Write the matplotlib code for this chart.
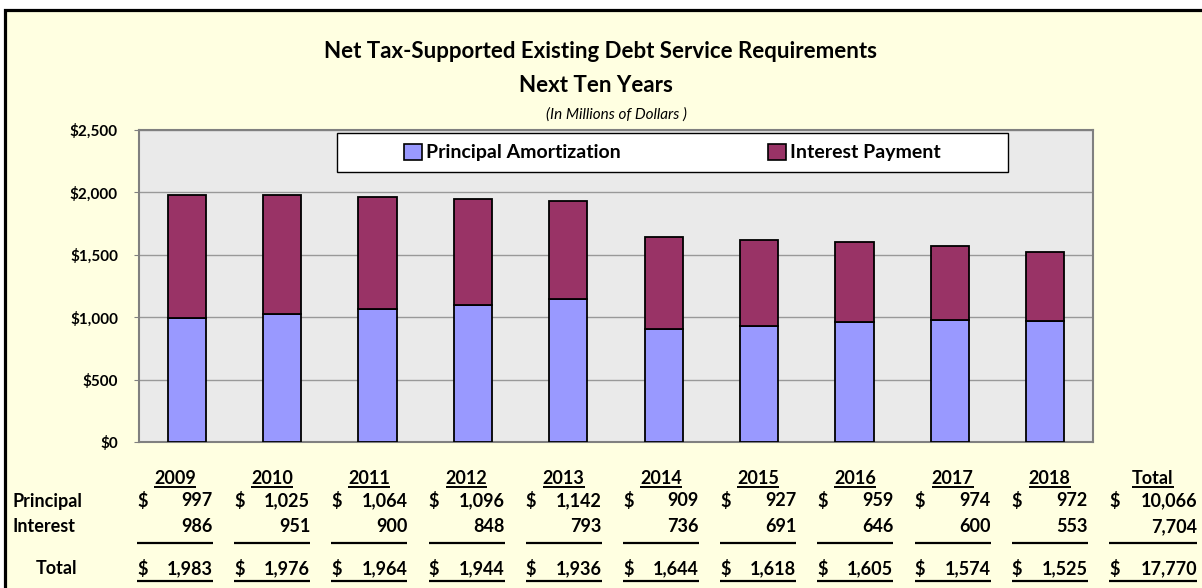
import matplotlib.pyplot as plt
from matplotlib.patches import Rectangle, Patch

plt.rcParams['font.family'] = ['Lato', 'DejaVu Sans']

years = ['2009', '2010', '2011', '2012', '2013', '2014', '2015', '2016', '2017', '2018']
principal = [997, 1025, 1064, 1096, 1142, 909, 927, 959, 974, 972]
interest = [986, 951, 900, 848, 793, 736, 691, 646, 600, 553]
totals = [1983, 1976, 1964, 1944, 1936, 1644, 1618, 1605, 1574, 1525]
sum_principal = 10066
sum_interest = 7704
sum_total = 17770
y_ticks = [0, 500, 1000, 1500, 2000, 2500]

W, H = 1202, 588
bg = '#FFFFE1'
fig = plt.figure(figsize=(W / 100, H / 100), dpi=100)
fig.patch.set_facecolor('white')

# yellow panel with heavy black border (only top/left edges fall inside the image)
fig.patches.append(Rectangle((5 / W, -0.2), 1.2, 1.2 - 10 / H, transform=fig.transFigure,
                             facecolor=bg, edgecolor='black', lw=2.3, zorder=-5))

# titles
fig.text(600 / W, 1 - 51 / H, 'Net Tax-Supported Existing Debt Service Requirements',
         ha='center', va='center', fontsize=16, fontweight='bold')
fig.text(596 / W, 1 - 85 / H, 'Next Ten Years', ha='center', va='center',
         fontsize=16, fontweight='bold')
fig.text(616 / W, 1 - 115 / H, '(In Millions of Dollars )', ha='center', va='center',
         fontsize=11, style='italic')

# chart
ax = fig.add_axes([139 / W, 1 - 442 / H, (1093 - 139) / W, (442 - 130) / H])
ax.set_facecolor('#EAEAEA')
x = range(len(years))
ax.bar(x, principal, 0.4, color='#9999FF', edgecolor='black', lw=1.3, zorder=3)
ax.bar(x, interest, 0.4, bottom=principal, color='#993366', edgecolor='black', lw=1.3, zorder=3)
ax.set_xlim(-0.5, len(years) - 0.5)
ax.set_ylim(0, 2500)
ax.set_xticks([])
ax.set_yticks(y_ticks)
ax.set_yticklabels([f'${v:,}' for v in y_ticks], fontweight='bold')
ax.tick_params(axis='y', direction='out', length=3.6, color='#808080', labelsize=11, pad=11.5)
ax.yaxis.grid(True, color='#999999', lw=1)
ax.set_axisbelow(True)
for s in ax.spines.values():
    s.set_color('#808080')
    s.set_linewidth(1.5)

# legend box
lx0, lx1 = (337 - 139) / 954, (1008 - 139) / 954
ly0, ly1 = (442 - 172) / 312, (442 - 133) / 312
ax.add_patch(Rectangle((lx0, ly0), lx1 - lx0, ly1 - ly0, transform=ax.transAxes,
                       facecolor='white', edgecolor='black', lw=1, zorder=5))
handles = [Patch(facecolor='#9999FF', edgecolor='black', lw=1.2, label='Principal Amortization'),
           Patch(facecolor='#993366', edgecolor='black', lw=1.2, label='Interest Payment')]
leg = ax.legend(handles=handles, loc='center', bbox_to_anchor=((lx0 + lx1) / 2, (ly0 + ly1) / 2),
                ncol=2, frameon=False, prop={'size': 14, 'weight': 'bold'},
                handlelength=0.93, handleheight=0.93, handletextpad=0.2, columnspacing=7.6)
leg.set_zorder(6)

# table under the chart, in pixel coordinates
tab = fig.add_axes([0, 0, 1, 1 - 450 / H])
tab.set_xlim(0, W)
tab.set_ylim(H, 450)
tab.axis('off')

fs = 13
y_year, y_pr, y_in, y_line1, y_tot, y_line2 = 478, 501, 527, 543, 569, 581
tab.text(13, y_pr, 'Principal', ha='left', va='center', fontsize=fs, fontweight='bold')
tab.text(13, y_in, 'Interest', ha='left', va='center', fontsize=fs, fontweight='bold')
tab.text(56, y_tot, 'Total', ha='center', va='center', fontsize=fs, fontweight='bold')

heads = years + ['Total']
pr_vals = principal + [sum_principal]
in_vals = interest + [sum_interest]
tot_vals = totals + [sum_total]
head_texts = []
for i, head in enumerate(heads):
    left = 137 + 97.2 * i
    right = left + (76 if i < len(years) else 88)
    mid = (left + right) / 2
    t = tab.text(mid, y_year, head, ha='center', va='center', fontsize=fs, fontweight='bold')
    head_texts.append(t)
    tab.text(left, y_pr, '$', ha='left', va='center', fontsize=fs, fontweight='bold')
    tab.text(right, y_pr, f'{pr_vals[i]:,}', ha='right', va='center', fontsize=fs, fontweight='bold')
    tab.text(right, y_in, f'{in_vals[i]:,}', ha='right', va='center', fontsize=fs, fontweight='bold')
    tab.text(left, y_tot, '$', ha='left', va='center', fontsize=fs, fontweight='bold')
    tab.text(right, y_tot, f'{tot_vals[i]:,}', ha='right', va='center', fontsize=fs, fontweight='bold')
    tab.plot([left, right], [y_line1, y_line1], color='black', lw=1.6, solid_capstyle='butt')
    tab.plot([left, right], [y_line2, y_line2], color='black', lw=1.6, solid_capstyle='butt')

# underline the column headings to their text width
renderer = fig.canvas.get_renderer()
inv = tab.transData.inverted()
for t in head_texts:
    bb = t.get_window_extent(renderer)
    (x0, _), (x1, _) = inv.transform([(bb.x0, bb.y0), (bb.x1, bb.y1)])
    tab.plot([x0, x1], [y_year + 9, y_year + 9], color='black', lw=1.4, solid_capstyle='butt')

fig.savefig('out.png', dpi=100, facecolor=fig.get_facecolor())
